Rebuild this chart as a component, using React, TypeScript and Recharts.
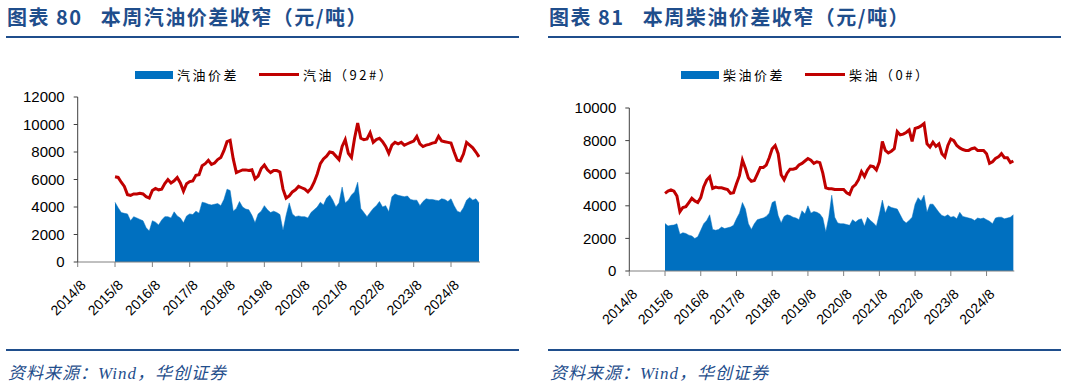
import React from 'react';
import { ComposedChart, Area, Line, XAxis, YAxis } from 'recharts';

// monthly readings, 2015/8 .. 2025/5
const startYear = 2015;
const startMonth = 8;

const gasSpread = [
  4340, 3950, 3600, 3540, 3500, 3000, 3300, 3200, 3100, 3000, 2500, 2250,
  3000, 2900, 2700, 3050, 3300, 3300, 3200, 3650, 3350, 3200, 2850, 3350,
  3500, 3450, 3700, 3550, 4350, 4300, 4200, 4150, 4200, 4250, 4100, 4550,
  5300, 5200, 3700, 3900, 4400, 4000, 3850, 3800, 3400, 2850, 3500, 3700,
  4100, 3800, 3600, 3700, 3600, 3450, 2300, 3400, 4300, 3500, 3300, 3350,
  3300, 3300, 3200, 3600, 3800, 4000, 4350, 4150, 4650, 4870, 4500, 4000,
  4300, 5450, 4300, 4500, 4870, 5100, 5800, 3900, 3600, 3300, 3600, 3900,
  4100, 4400, 4000, 4100, 3650, 4750, 4950, 4850, 4800, 4750, 4800, 4550,
  4500, 4500, 4100, 4400, 4600, 4550, 4550, 4500, 4450, 4600, 4550, 4400,
  4600, 4100, 3700, 3600, 3950, 4500, 4700, 4500, 4600, 4300,
];

const gasPrice = [
  6200, 6150, 5800, 5500, 4900, 4850, 4950, 4950, 5000, 4950, 4750, 4650,
  5200, 5350, 5250, 5300, 5700, 6000, 5750, 5900, 6150, 5750, 5150, 5700,
  5850, 5900, 6300, 6350, 7000, 7150, 7400, 7100, 7200, 7450, 7600, 8100,
  8750, 8850, 7500, 6500, 6600, 6700, 6700, 6650, 6700, 6050, 6250, 6800,
  7050, 6700, 6500, 6650, 6650, 6550, 5300, 4650, 4800, 5100, 5250, 5500,
  5400, 5300, 5100, 5350, 5800, 6400, 7150, 7500, 7700, 8000, 7950, 7700,
  7450, 8400, 8900, 7900, 7600, 9000, 10100, 9000, 8900, 8950, 9400, 8700,
  8900, 9000, 8750, 8400, 7900, 8500, 8700, 8600, 8700, 8500, 8600, 8700,
  8800, 9130, 8600, 8400, 8500, 8550, 8650, 8700, 9150, 8800, 8750, 8700,
  8650, 8000, 7400, 7350, 7850, 8700, 8500, 8300, 8000, 7650,
];

const dieselSpread = [
  2920, 2760, 2800, 2820, 2900, 2250, 2350, 2300, 2200, 2150, 2000, 2100,
  2500, 2900, 3100, 3450, 2550, 2500, 2550, 2700, 2600, 2650, 2700, 2800,
  3200, 3550, 4200, 3800, 2900, 2550, 2900, 3150, 3200, 3250, 3350, 3550,
  4200, 4300, 3400, 2950, 3350, 3450, 3400, 3300, 3250, 3150, 3700, 3500,
  4000, 3550, 3650, 3600, 3500, 3250, 2400, 3300, 4650, 3300, 2950, 2900,
  2900, 2850, 2800, 3150, 3000, 3150, 3200, 2750, 3300, 3100, 2950, 2750,
  3500, 4350, 3550, 4000, 3900, 3850, 3800, 3450, 3100, 2950, 3100, 3300,
  4100, 4500, 4300, 4650, 3600, 4100, 4100, 3850, 3600, 3400, 3350, 3450,
  3300, 3350, 3200, 3600, 3350, 3300, 3250, 3200, 3100, 3250, 3200, 3250,
  3150, 3050, 2900, 3250, 3300, 3300, 3200, 3250, 3300, 3450,
];

const dieselPrice = [
  4760, 4900, 4980, 4900, 4600, 3640, 3900, 3950, 4200, 4460, 4300, 4200,
  4500, 5170, 5580, 5780, 5070, 5150, 5100, 5100, 5050, 5000, 4760, 4800,
  5350, 5850, 6800, 6300, 5700, 5500, 5550, 5950, 6350, 6350, 6500, 6950,
  7500, 7700, 7200, 5900, 5600, 6000, 6250, 6250, 6300, 6500, 6600, 6750,
  6900, 6800, 6600, 6700, 6650, 6000, 5100, 5050, 5050, 5000, 5000, 5000,
  5000, 4800, 4700, 5150, 5300, 5600, 6100, 5800, 6200, 6450, 6400, 6200,
  6700, 7950, 7400, 7250, 7350, 7500, 8550, 8350, 8400, 8500, 8650, 7950,
  8750, 8800, 8900, 9050, 7800, 7600, 7900, 7650, 7800, 7200, 7000, 7700,
  8100, 8000, 7700, 7550, 7450, 7400, 7400, 7500, 7550, 7400, 7400, 7400,
  7200, 6600, 6700, 6900, 7000, 7200, 6950, 6950, 6650, 6750,
];

const yearTicks = [2014, 2015, 2016, 2017, 2018, 2019, 2020, 2021, 2022, 2023, 2024];
const gasYTicks = [0, 2000, 4000, 6000, 8000, 10000, 12000];
const dieselYTicks = [0, 2000, 4000, 6000, 8000, 10000];

const BLUE = '#0070C0';
const RED = '#C00000';
const NAVY = '#1f4e8c';

const toT = (i: number) => startYear + (startMonth - 1 + i) / 12;
const xTicks = yearTicks.map((y) => y + 7 / 12);
const xDomain = [2014 + 7 / 12, 2025.36];

const gasRows = gasPrice.map((p, i) => ({ t: toT(i), price: p, spread: gasSpread[i] }));
const dieselRows = dieselPrice.map((p, i) => ({ t: toT(i), price: p, spread: dieselSpread[i] }));

const XTick = (props: any) => {
  const { x, y, payload } = props;
  const label = `${Math.round(payload.value - 7 / 12)}/8`;
  return (
    <text
      transform={`translate(${x + 9},${y + 19}) rotate(-45)`}
      textAnchor="end"
      fontSize={14}
      fontFamily="'Liberation Sans', Arial, sans-serif"
      fill="#000"
    >
      {label}
    </text>
  );
};

function Panel(props: {
  left: number;
  title: string;
  spreadName: string;
  priceName: string;
  rows: any[];
  yTicks: number[];
  yMax: number;
  yWidth: number;
  margin: { top: number; right: number; bottom: number };
  legendX: number;
}) {
  const { left, title, spreadName, priceName, rows, yTicks, yMax, yWidth, margin, legendX } = props;
  const edge = left === 0 ? 6 : 15;
  return (
    <div style={{ position: 'absolute', left, top: 0, width: 533, height: 385 }}>
      <div
        style={{
          position: 'absolute',
          left: edge + 1,
          top: 2,
          fontFamily: "'Noto Sans CJK SC', sans-serif",
          fontWeight: 700,
          fontSize: 20,
          letterSpacing: 1.5,
          color: NAVY,
          whiteSpace: 'pre',
        }}
      >
        {title}
      </div>
      <div style={{ position: 'absolute', left: edge, top: 36, width: 513, height: 2, background: NAVY }} />
      <div
        style={{
          position: 'absolute',
          left: legendX,
          top: 65,
          display: 'flex',
          alignItems: 'center',
          fontFamily: "'Noto Sans CJK SC', sans-serif",
          fontSize: 13,
          letterSpacing: 2.5,
          color: '#000',
          whiteSpace: 'pre',
        }}
      >
        <span style={{ display: 'inline-block', width: 38, height: 8, background: BLUE, marginRight: 4 }} />
        <span>{spreadName}</span>
        <span style={{ display: 'inline-block', width: 40, height: 3, background: RED, marginLeft: 20, marginRight: 4 }} />
        <span>{priceName}</span>
      </div>
      <ComposedChart
        width={533}
        height={385}
        data={rows}
        margin={{ top: margin.top, right: margin.right, bottom: margin.bottom, left: 0 }}
        style={{ position: 'absolute', left: 0, top: 0 }}
      >
        <XAxis
          dataKey="t"
          type="number"
          domain={xDomain}
          ticks={xTicks}
          interval={0}
          allowDataOverflow
          height={60}
          tickSize={5}
          tickMargin={0}
          stroke="#808080"
          tick={<XTick />}
        />
        <YAxis
          type="number"
          domain={[0, yMax]}
          ticks={yTicks}
          interval={0}
          width={yWidth}
          tickSize={4}
          tickMargin={9}
          stroke="#404040"
          tick={{ fontSize: 15, fill: '#000', fontFamily: "'Liberation Sans', Arial, sans-serif" }}
        />
        <Area
          type="linear"
          dataKey="spread"
          fill={BLUE}
          fillOpacity={1}
          stroke={BLUE}
          strokeWidth={0.5}
          isAnimationActive={false}
        />
        <Line
          type="linear"
          dataKey="price"
          stroke={RED}
          strokeWidth={3}
          dot={false}
          isAnimationActive={false}
        />
      </ComposedChart>
      <div style={{ position: 'absolute', left: edge, top: 349, width: 513, height: 2, background: NAVY }} />
      <div
        style={{
          position: 'absolute',
          left: edge + 2,
          top: 359,
          fontFamily: "'Liberation Serif', 'Noto Sans CJK SC', serif",
          fontStyle: 'italic',
          fontSize: 17,
          letterSpacing: 1,
          color: NAVY,
        }}
      >
        资料来源：Wind，华创证券
      </div>
    </div>
  );
}

export default function App() {
  return (
    <div style={{ position: 'absolute', left: 0, top: 0, width: 1066, height: 385, background: '#fff', overflow: 'hidden' }}>
      <Panel
        left={0}
        title={'图表 80   本周汽油价差收窄（元/吨）'}
        spreadName="汽油价差"
        priceName="汽油（92#）"
        rows={gasRows}
        yTicks={gasYTicks}
        yMax={12000}
        yWidth={77.7}
        margin={{ top: 97, right: 53, bottom: 63 }}
        legendX={135}
      />
      <Panel
        left={533}
        title={'图表 81   本周柴油价差收窄（元/吨）'}
        spreadName="柴油价差"
        priceName="柴油（0#）"
        rows={dieselRows}
        yTicks={dieselYTicks}
        yMax={10000}
        yWidth={96.3}
        margin={{ top: 108, right: 51.7, bottom: 54 }}
        legendX={148}
      />
    </div>
  );
}
